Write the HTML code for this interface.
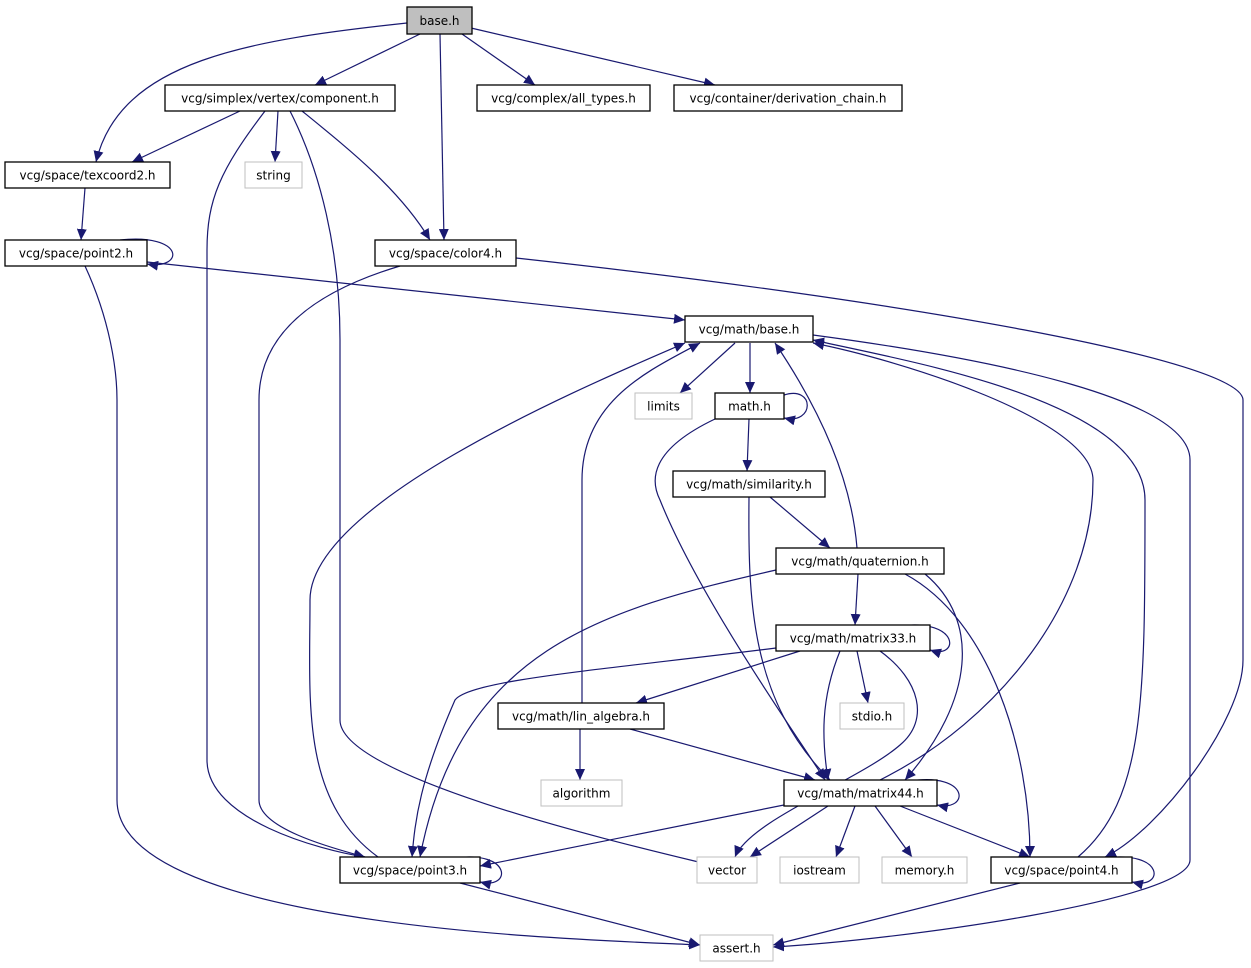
<!DOCTYPE html>
<html><head><meta charset="utf-8"><style>
html,body{margin:0;padding:0;background:#fff;}
svg{display:block;}
text{font-family:"DejaVu Sans","Liberation Sans",sans-serif;font-size:12px;fill:#000;}
.n{fill:#fff;stroke:#000;stroke-width:1.3;}
.g{fill:#fff;stroke:#bfbfbf;stroke-width:1;}
.e{fill:none;stroke:#191970;stroke-width:1.2;marker-end:url(#a);}
</style></head><body>
<svg width="1251" height="968" viewBox="0 0 1251 968" xmlns="http://www.w3.org/2000/svg">
<defs><marker id="a" markerUnits="userSpaceOnUse" markerWidth="12" markerHeight="10" refX="11" refY="5" orient="auto"><path d="M0,0 L11,5 L0,10 z" fill="#191970"/></marker></defs>
<g>
<path class="e" d="M407,23 C250,40 120,60 96,162"/>
<path class="e" d="M420,34 L315,85"/>
<path class="e" d="M440,34 L444,240"/>
<path class="e" d="M462,34 L535,85"/>
<path class="e" d="M471,28 L715,85"/>
<path class="e" d="M240,111 L132,162"/>
<path class="e" d="M278,111 L275,162"/>
<path class="e" d="M302,111 C350,150 400,190 430,240"/>
<path class="e" d="M265,111 C220,170 207,200 207,250 L207,760 C207,820 320,850 365,857"/>
<path class="e" d="M290,111 C320,170 340,250 340,340 L340,720 C340,780 650,850 715,866"/>
<path class="e" d="M85,188 L81,240"/>
<path class="e" d="M120,240 C185,233 185,270 147,264"/>
<path class="e" d="M147,262 L685,320"/>
<path class="e" d="M85,266 C110,320 117,370 117,400 L117,800 C117,930 600,940 700,945"/>
<path class="e" d="M400,266 C320,290 259,330 259,400 L259,800 C259,830 340,850 365,857"/>
<path class="e" d="M516,258 C900,300 1243,360 1243,400 L1243,660 C1243,720 1160,830 1105,857"/>
<path class="e" d="M735,343 L680,393"/>
<path class="e" d="M750,343 L750,393"/>
<path class="e" d="M813,335 C1000,360 1190,400 1190,460 L1190,860 C1190,900 900,940 773,947"/>
<path class="e" d="M784,395 C815,385 815,425 784,418"/>
<path class="e" d="M749,419 L747,471"/>
<path class="e" d="M715,419 C650,450 650,480 660,500 C700,600 800,740 825,780"/>
<path class="e" d="M770,497 L830,548"/>
<path class="e" d="M749,497 C748,600 750,700 830,780"/>
<path class="e" d="M857,548 C850,460 800,380 775,343"/>
<path class="e" d="M858,574 L855,625"/>
<path class="e" d="M776,570 C600,610 460,650 420,857"/>
<path class="e" d="M925,574 C980,620 975,700 905,780"/>
<path class="e" d="M905,574 C990,620 1030,750 1030,857"/>
<path class="e" d="M900,626 C960,618 960,660 930,650"/>
<path class="e" d="M800,651 L636,703"/>
<path class="e" d="M776,648 C600,670 470,680 455,700 C420,780 415,820 412,857"/>
<path class="e" d="M857,651 L868,703"/>
<path class="e" d="M840,651 C820,700 822,740 828,780"/>
<path class="e" d="M880,651 C920,680 930,720 900,745 C860,780 750,820 735,857"/>
<path class="e" d="M582,703 L582,480 C582,400 650,370 700,343"/>
<path class="e" d="M580,729 L580,780"/>
<path class="e" d="M630,729 L815,780"/>
<path class="e" d="M910,781 C970,772 970,812 937,805"/>
<path class="e" d="M880,780 C1000,720 1093,600 1093,480 C1093,420 900,360 813,343"/>
<path class="e" d="M784,805 L480,866"/>
<path class="e" d="M828,806 L750,857"/>
<path class="e" d="M855,806 L836,857"/>
<path class="e" d="M875,806 L912,857"/>
<path class="e" d="M900,806 L1030,857"/>
<path class="e" d="M455,858 C512,850 512,890 480,882"/>
<path class="e" d="M378,857 C300,800 310,700 310,600 C310,500 600,380 685,343"/>
<path class="e" d="M460,883 L700,945"/>
<path class="e" d="M1105,858 C1165,850 1165,890 1132,882"/>
<path class="e" d="M1078,857 C1145,800 1145,700 1145,500 C1145,400 900,360 813,340"/>
<path class="e" d="M1020,883 L773,945"/>
</g>
<g>
<rect x="407" y="7" width="65" height="27" fill="#bfbfbf" stroke="#000" stroke-width="1.3"/><text x="439.5" y="25" text-anchor="middle">base.h</text>
<rect class="n" x="165" y="85" width="230" height="26"/><text x="280" y="102.5" text-anchor="middle">vcg/simplex/vertex/component.h</text>
<rect class="n" x="477" y="85" width="173" height="26"/><text x="563.5" y="102.5" text-anchor="middle">vcg/complex/all_types.h</text>
<rect class="n" x="674" y="85" width="228" height="26"/><text x="788" y="102.5" text-anchor="middle">vcg/container/derivation_chain.h</text>
<rect class="n" x="5" y="162" width="165" height="26"/><text x="87.5" y="179.5" text-anchor="middle">vcg/space/texcoord2.h</text>
<rect class="g" x="245" y="162" width="57" height="26"/><text x="273.5" y="179.5" text-anchor="middle">string</text>
<rect class="n" x="5" y="240" width="142" height="26"/><text x="76" y="257.5" text-anchor="middle">vcg/space/point2.h</text>
<rect class="n" x="375" y="240" width="141" height="26"/><text x="445.5" y="257.5" text-anchor="middle">vcg/space/color4.h</text>
<rect class="n" x="685" y="316" width="128" height="26"/><text x="749" y="333.5" text-anchor="middle">vcg/math/base.h</text>
<rect class="g" x="635" y="393" width="57" height="26"/><text x="663.5" y="410.5" text-anchor="middle">limits</text>
<rect class="n" x="715" y="393" width="69" height="26"/><text x="749.5" y="410.5" text-anchor="middle">math.h</text>
<rect class="n" x="673" y="471" width="152" height="26"/><text x="749" y="488.5" text-anchor="middle">vcg/math/similarity.h</text>
<rect class="n" x="776" y="548" width="168" height="26"/><text x="860" y="565.5" text-anchor="middle">vcg/math/quaternion.h</text>
<rect class="n" x="776" y="625" width="154" height="26"/><text x="853" y="642.5" text-anchor="middle">vcg/math/matrix33.h</text>
<rect class="g" x="840" y="703" width="64" height="26"/><text x="872" y="720.5" text-anchor="middle">stdio.h</text>
<rect class="n" x="498" y="703" width="166" height="26"/><text x="581" y="720.5" text-anchor="middle">vcg/math/lin_algebra.h</text>
<rect class="g" x="541" y="780" width="81" height="26"/><text x="581.5" y="797.5" text-anchor="middle">algorithm</text>
<rect class="n" x="784" y="780" width="153" height="26"/><text x="860.5" y="797.5" text-anchor="middle">vcg/math/matrix44.h</text>
<rect class="n" x="340" y="857" width="140" height="26"/><text x="410" y="874.5" text-anchor="middle">vcg/space/point3.h</text>
<rect class="g" x="697" y="857" width="60" height="26"/><text x="727" y="874.5" text-anchor="middle">vector</text>
<rect class="g" x="780" y="857" width="79" height="26"/><text x="819.5" y="874.5" text-anchor="middle">iostream</text>
<rect class="g" x="882" y="857" width="85" height="26"/><text x="924.5" y="874.5" text-anchor="middle">memory.h</text>
<rect class="n" x="991" y="857" width="141" height="26"/><text x="1061.5" y="874.5" text-anchor="middle">vcg/space/point4.h</text>
<rect class="g" x="700" y="935" width="73" height="26"/><text x="736.5" y="952.5" text-anchor="middle">assert.h</text>
</g>
</svg>
</body></html>
